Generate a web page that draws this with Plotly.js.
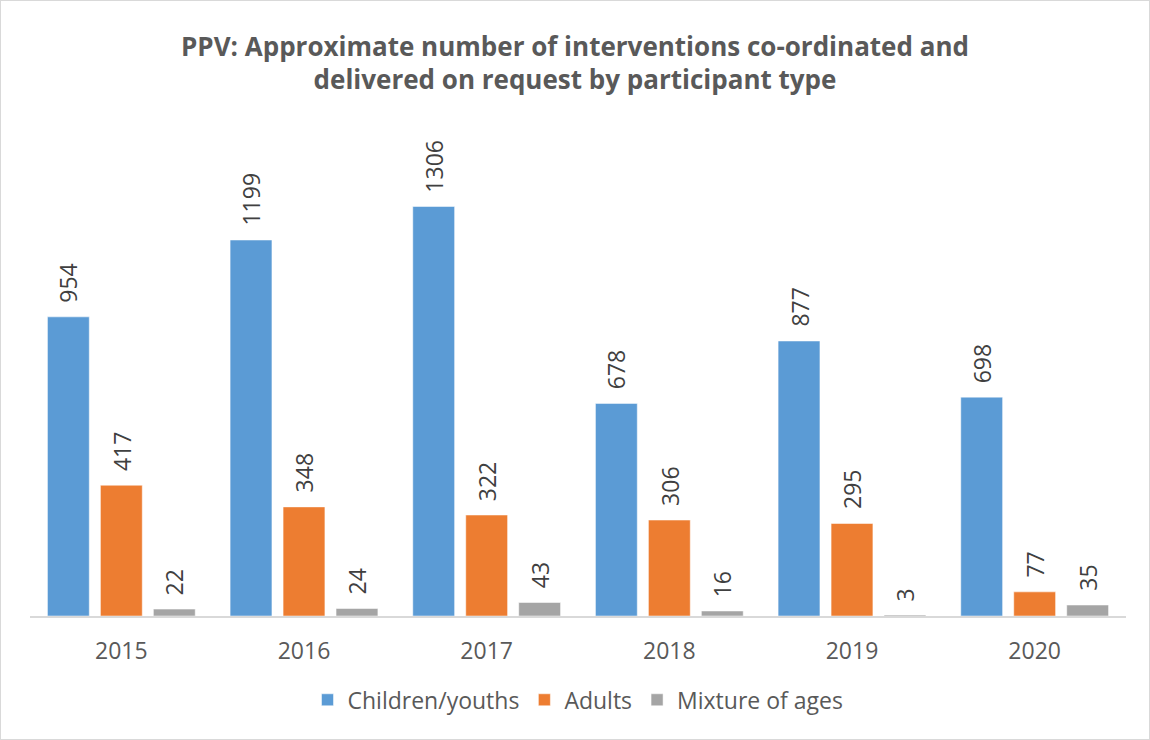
<!DOCTYPE html>
<html>
<head>
<meta charset="utf-8">
<script src="https://cdn.plot.ly/plotly-3.0.1.min.js"></script>
<style>
html,body{margin:0;padding:0;background:#fff;}
#wrap{width:1150px;height:740px;box-sizing:border-box;border:1px solid #D9D9D9;}
#chart{width:1148px;height:738px;}
</style>
</head>
<body>
<div id="wrap"><div id="chart"></div></div>
<script>
const years = ["2015","2016","2017","2018","2019","2020"];
const children = [954,1199,1306,678,877,698];
const adults = [417,348,322,306,295,77];
const mixture = [22,24,43,16,3,35];
const seriesNames = ["Children/youths","Adults","Mixture of ages"];
const colors = ["#5B9BD5","#ED7D31","#A5A5A5"];

const W = 1148, H = 738;
const margin = {l:29, r:23, t:176, b:123};
const bargap = 0.13;

const allVals = [children, adults, mixture];
const traces = allVals.map((v,i)=>({
  type:"bar",
  name:seriesNames[i],
  x:years,
  y:v,
  marker:{color:colors[i], line:{color:"#ffffff", width:0.5}},
  hoverinfo:"skip"
}));

// value labels as annotations, offset to each bar's slot within the group
const plotW = W - margin.l - margin.r;
const slot = (plotW / years.length) * (1 - bargap) / allVals.length;
const annotations = [];
allVals.forEach((v,i)=>{
  v.forEach((val,j)=>{
    annotations.push({
      x: j, y: val, xref:"x", yref:"y",
      text: String(val),
      showarrow:false,
      textangle:-90,
      xanchor:"center", yanchor:"bottom",
      xshift: (i - (allVals.length-1)/2) * slot,
      yshift: 12,
      font:{family:"Open Sans, sans-serif", size:23, color:"#404040"}
    });
  });
});

const layout = {
  width:W, height:H,
  paper_bgcolor:"#ffffff", plot_bgcolor:"#ffffff",
  margin:margin,
  title:{
    text:"<b>PPV: Approximate number of interventions co-ordinated and<br>delivered on request by participant type</b>",
    font:{family:"Open Sans, sans-serif", size:26, color:"#595959"},
    x:0.5, xanchor:"center", yref:"container", y:0.926, yanchor:"middle"
  },
  barmode:"group",
  bargap:bargap,
  bargroupgap:0.21,
  xaxis:{
    type:"category",
    categoryorder:"array", categoryarray:years,
    showline:true, linecolor:"#D9D9D9", linewidth:1.5,
    ticks:"", showgrid:false,
    tickfont:{family:"Open Sans, sans-serif", size:23, color:"#595959"},
    ticklabelstandoff:14
  },
  yaxis:{
    range:[0,1400], visible:false, showgrid:false, zeroline:false
  },
  showlegend:true,
  legend:{
    orientation:"h", x:0.5, xanchor:"center", y:-0.142, yanchor:"top",
    font:{family:"Open Sans, sans-serif", size:23, color:"#595959"},
    itemwidth:30, traceorder:"normal"
  },
  annotations:annotations
};

Plotly.newPlot("chart", traces, layout, {displayModeBar:false, staticPlot:true});
</script>
</body>
</html>
